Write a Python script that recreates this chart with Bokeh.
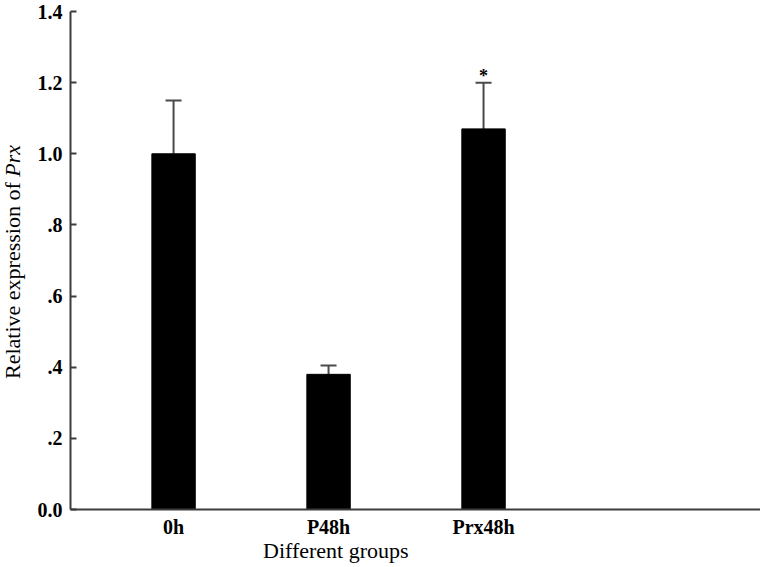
from bokeh.plotting import figure
from bokeh.models import ColumnDataSource, Whisker, TeeHead, FixedTicker, Range1d, Div
from bokeh.layouts import row, column
from bokeh.embed import file_html
from bokeh.resources import INLINE
from bokeh.core.properties import value

# ---- data ----
groups = ["0h", "P48h", "Prx48h"]
means = [1.00, 0.38, 1.07]
errors = [0.15, 0.025, 0.13]
marks = ["", "", "*"]
y_ticks = [0.0, 0.2, 0.4, 0.6, 0.8, 1.0, 1.2, 1.4]
y_tick_labels = ["0.0", ".2", ".4", ".6", ".8", "1.0", "1.2", "1.4"]
x_title = "Different groups"
y_title_plain = "Relative expression of "
y_title_italic = "Prx"

xpos = list(range(1, len(groups) + 1))
upper = [m + e for m, e in zip(means, errors)]
src = ColumnDataSource(dict(x=xpos, top=means, upper=upper, mark=marks))

FONT = "Liberation Serif"
AX = "#3c3c3c"
DIV_W = 28
PW, PH = 732, 540
XT_H = 26
TOTAL_H = PH + XT_H

p = figure(width=PW, height=PH, output_backend="svg", toolbar_location=None,
           x_range=Range1d(0.335, 4.787), y_range=Range1d(0, 1.4),
           min_border_left=70 - DIV_W, min_border_right=0, min_border_top=11,
           min_border_bottom=31, outline_line_color=None)
p.xgrid.visible = False
p.ygrid.visible = False

p.vbar(x="x", top="top", bottom=0, width=0.28, source=src,
       fill_color="black", line_color="black")

p.add_layout(Whisker(base="x", upper="upper", lower="top", source=src,
                     line_color="#4a4a4a", line_width=2,
                     upper_head=TeeHead(size=16, line_color="#4a4a4a", line_width=2),
                     lower_head=None))

p.text(x="x", y="upper", text="mark", source=src, text_font=value(FONT),
       text_font_size="18px", text_font_style="bold", text_align="center",
       text_baseline="middle", y_offset=-7, text_color="black")

ya = p.yaxis[0]
ya.ticker = FixedTicker(ticks=y_ticks)
ya.major_label_overrides = {t: l for t, l in zip(y_ticks, y_tick_labels)}
ya.minor_tick_line_color = None
ya.major_tick_in = 6
ya.major_tick_out = 0
ya.major_tick_line_color = AX
ya.major_tick_line_width = 2
ya.axis_line_color = AX
ya.axis_line_width = 2
ya.major_label_text_font = FONT
ya.major_label_text_font_size = "20px"
ya.major_label_text_font_style = "bold"
ya.major_label_text_color = "black"
ya.major_label_standoff = 8

xa = p.xaxis[0]
xa.ticker = FixedTicker(ticks=xpos)
xa.major_label_overrides = {x: g for x, g in zip(xpos, groups)}
xa.minor_tick_line_color = None
xa.major_tick_line_color = None
xa.axis_line_color = AX
xa.axis_line_width = 2
xa.major_label_text_font = FONT
xa.major_label_text_font_size = "20px"
xa.major_label_text_font_style = "bold"
xa.major_label_text_color = "black"
xa.major_label_standoff = 0

TEXT_CSS = ("white-space:nowrap;font-family:'Liberation Serif',serif;"
            "font-size:22px;line-height:22px;color:black;")

# x title, off-centre like the reference
div_x = Div(text=(f'<div style="position:relative;width:{PW}px;height:{XT_H}px;">'
                  f'<div style="position:absolute;left:{263 - DIV_W}px;top:0px;{TEXT_CSS}">'
                  f'{x_title}</div></div>'),
            width=PW, height=XT_H, margin=0)

# y title with italic gene name, as rotated text
div_y = Div(text=(f'<div style="position:relative;width:{DIV_W}px;height:{TOTAL_H}px;">'
                  '<div style="position:absolute;left:2px;top:379px;transform:rotate(-90deg);'
                  f'transform-origin:0 0;{TEXT_CSS}">'
                  f'{y_title_plain}<i>{y_title_italic}</i></div></div>'),
            width=DIV_W, height=TOTAL_H, margin=0)

layout = row(div_y, column(p, div_x, spacing=0), spacing=0)
open("out.html", "w").write(file_html(layout, INLINE))
